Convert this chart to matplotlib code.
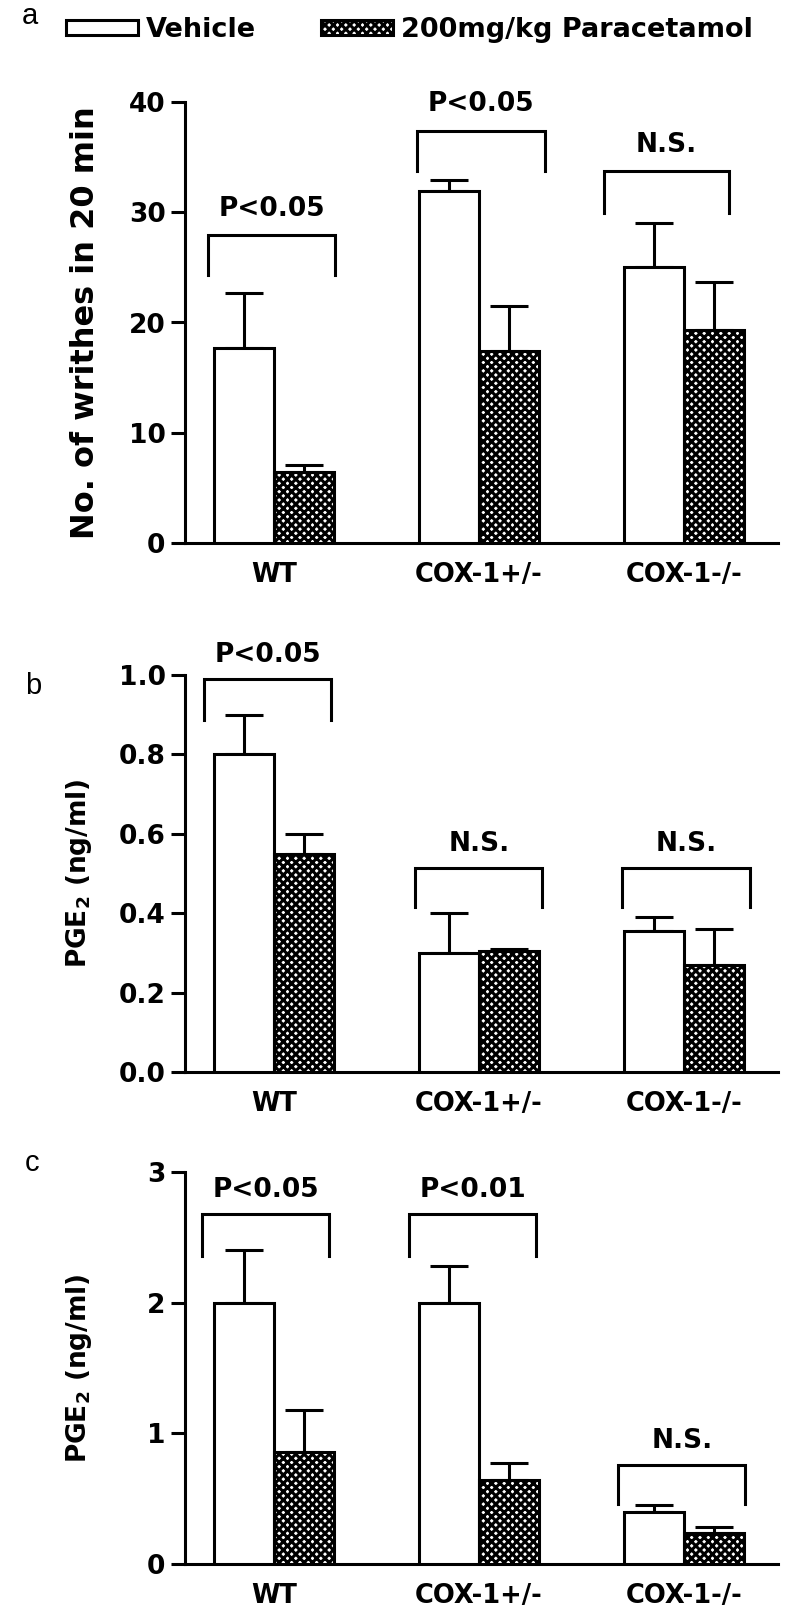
import matplotlib
matplotlib.use("Agg")
import matplotlib.pyplot as plt
from matplotlib.patches import Patch

plt.rcParams['font.family'] = ['DejaVu Sans']
plt.rcParams['font.weight'] = 'bold'
plt.rcParams['axes.labelweight'] = 'bold'
plt.rcParams['hatch.linewidth'] = 2.2
plt.rcParams['mathtext.default'] = 'bf'

groups = ["WT", "COX-1+/-", "COX-1-/-"]
series = ["Vehicle", "200mg/kg Paracetamol"]

# a: writhing test
writhes_vehicle = [17.7, 31.9, 25.0]
writhes_vehicle_err = [5.0, 1.0, 4.0]
writhes_para = [6.4, 17.4, 19.3]
writhes_para_err = [0.7, 4.1, 4.4]
writhes_sig = ["P<0.05", "P<0.05", "N.S."]

# b: PGE2
pge2_b_vehicle = [0.80, 0.30, 0.355]
pge2_b_vehicle_err = [0.10, 0.10, 0.035]
pge2_b_para = [0.55, 0.305, 0.27]
pge2_b_para_err = [0.05, 0.005, 0.09]
pge2_b_sig = ["P<0.05", "N.S.", "N.S."]

# c: PGE2
pge2_c_vehicle = [2.0, 2.0, 0.40]
pge2_c_vehicle_err = [0.40, 0.28, 0.05]
pge2_c_para = [0.855, 0.64, 0.24]
pge2_c_para_err = [0.32, 0.13, 0.04]
pge2_c_sig = ["P<0.05", "P<0.01", "N.S."]

# bracket (top, leg bottom) per group, and horizontal span around group centre
brackets_a = [(27.9, 24.3), (37.4, 33.7), (33.7, 29.9)]
spans_a = [(-0.32, 0.30), (-0.30, 0.32), (-0.39, 0.22)]
brackets_b = [(0.99, 0.887), (0.514, 0.416), (0.514, 0.416)]
spans_b = [(-0.34, 0.28), (-0.31, 0.31), (-0.30, 0.32)]
brackets_c = [(2.68, 2.36), (2.68, 2.36), (0.76, 0.46)]
spans_c = [(-0.35, 0.27), (-0.34, 0.28), (-0.32, 0.30)]

W, H = 800, 1619
fig = plt.figure(figsize=(W / 100, H / 100), dpi=100)

x = [0, 1, 2]
bw = 0.293
lw = 2.2
HATCH = "xxxx"


def panel(rect, veh, veh_err, par, par_err, sig, brackets, spans, ylim, yticks,
          yticklabels, ylabel, ylabel_size, ylabel_x):
    ax = fig.add_axes(rect)
    xv = [i - bw / 2 for i in x]
    xp = [i + bw / 2 for i in x]
    ax.bar(xv, veh, bw, color="white", edgecolor="black", linewidth=lw, zorder=3)
    ax.bar(xp, par, bw, color="white", edgecolor="black", linewidth=lw,
           hatch=HATCH, zorder=3)
    for xs, v, e in ((xv, veh, veh_err), (xp, par, par_err)):
        ax.errorbar(xs, v, yerr=[[0] * 3, e], fmt="none", ecolor="black",
                    elinewidth=lw, capsize=14, capthick=lw, zorder=2)
    span = yticks[-1] - yticks[0]
    for i in x:
        top, bot = brackets[i]
        x0, x1 = i + spans[i][0], i + spans[i][1]
        ax.plot([x0, x0, x1, x1], [bot, top, top, bot], color="black", lw=lw,
                clip_on=False, solid_joinstyle="miter")
        ax.text((x0 + x1) / 2, top + span * 0.06, sig[i], ha="center",
                va="center", fontsize=19, clip_on=False)
    ax.set_xlim(-0.434, 2.459)
    ax.set_ylim(*ylim)
    ax.set_yticks(yticks)
    ax.set_yticklabels(yticklabels, fontsize=19)
    ax.set_xticks(x)
    ax.set_xticklabels(groups, fontsize=18.5)
    ax.tick_params(axis="x", length=0, pad=14)
    ax.tick_params(axis="y", length=10, width=lw, direction="out", pad=4)
    for s in ("top", "right"):
        ax.spines[s].set_visible(False)
    for s in ("left", "bottom"):
        ax.spines[s].set_linewidth(lw)
    ax.set_ylabel(ylabel, fontsize=ylabel_size, fontweight="bold")
    ax.yaxis.set_label_coords(ylabel_x, 0.5)
    return ax


left = 185 / W
width = (778 - 185) / W

panel([left, 1 - 543 / H, width, 441 / H], writhes_vehicle, writhes_vehicle_err,
      writhes_para, writhes_para_err, writhes_sig, brackets_a, spans_a,
      (0, 40), [0, 10, 20, 30, 40], ["0", "10", "20", "30", "40"],
      "No. of writhes in 20 min", 23, -0.142)
panel([left, 1 - 1072 / H, width, 397 / H], pge2_b_vehicle, pge2_b_vehicle_err,
      pge2_b_para, pge2_b_para_err, pge2_b_sig, brackets_b, spans_b,
      (0, 1.0), [0, 0.2, 0.4, 0.6, 0.8, 1.0],
      ["0.0", "0.2", "0.4", "0.6", "0.8", "1.0"], r"PGE$_2$ (ng/ml)", 19, -0.153)
panel([left, 1 - 1564 / H, width, 392 / H], pge2_c_vehicle, pge2_c_vehicle_err,
      pge2_c_para, pge2_c_para_err, pge2_c_sig, brackets_c, spans_c,
      (0, 3), [0, 1, 2, 3], ["0", "1", "2", "3"], r"PGE$_2$ (ng/ml)", 19, -0.153)

handles = [Patch(facecolor="white", edgecolor="black", linewidth=lw),
           Patch(facecolor="white", edgecolor="black", linewidth=lw,
                 hatch=HATCH)]
fig.legend(handles, series, loc="center left", bbox_to_anchor=(66 / W, 1 - 30 / H),
           ncol=2, frameon=False, fontsize=19.5, handlelength=2.65,
           handleheight=0.45, handletextpad=0.3, columnspacing=2.4,
           borderaxespad=0, borderpad=0)

for letter, xx, yy in (("a", 22, 16), ("b", 25, 686), ("c", 25, 1163)):
    fig.text(xx / W, 1 - yy / H, letter, fontsize=21, fontweight="normal",
             family="Liberation Sans", ha="left", va="center")

fig.savefig("out.png", dpi=100, facecolor="white")
